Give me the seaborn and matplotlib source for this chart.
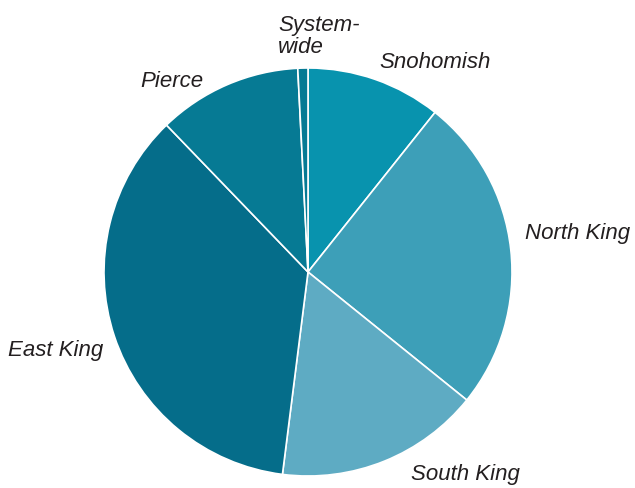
import matplotlib
matplotlib.use("Agg")
import matplotlib.pyplot as plt
import seaborn as sns

# data (shares, clockwise from top)
regions = ["Snohomish", "North King", "South King", "East King", "Pierce", "System-\nwide"]
shares = [10.7, 25.1, 16.2, 35.8, 11.4, 0.8]
colors = ["#0893ae", "#3d9fb8", "#5eabc3", "#056d8a", "#067a94", "#067a94"]

# label anchor points (data units, radius = 1), baseline aligned (last line)
label_x = [0.623, 1.319, 0.770, -1.235, -0.667, -0.147]
label_y = [1.005, 0.167, -1.015, -0.407, 0.912, 1.078]
label_ha = ["center", "center", "center", "center", "center", "left"]

sns.set_theme(style="white")
plt.rcParams['font.family'] = ['Liberation Sans', 'DejaVu Sans']

fig = plt.figure(figsize=(6.35, 4.89), dpi=100)
ax = fig.add_axes([0, 0, 1, 1])

ax.pie(shares, colors=colors, startangle=90, counterclock=False,
       wedgeprops=dict(edgecolor="white", linewidth=1.2))

for name, x, y, ha in zip(regions, label_x, label_y, label_ha):
    ax.text(x, y, name, ha=ha, va="baseline", fontsize=16,
            fontstyle="italic", color="#231f20", linespacing=1.05,
            multialignment="left")

ax.set_xlim(-308 / 204, (635 - 308) / 204)
ax.set_ylim(-(489 - 273) / 204, 273 / 204)
ax.set_aspect("equal")
ax.axis("off")

fig.savefig("out.png", dpi=100)
